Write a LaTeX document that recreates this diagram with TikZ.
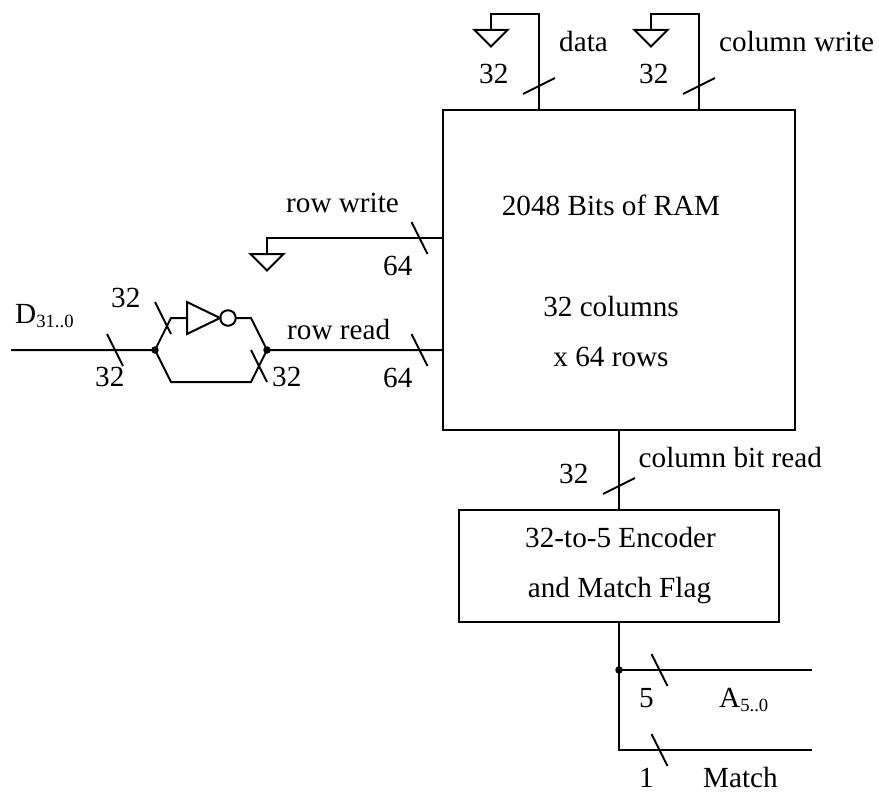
\documentclass[tikz,border=0pt]{standalone}
\usepackage{fontspec}
\setmainfont{Liberation Serif}
\newcommand{\subtxt}[1]{\raisebox{-4pt}{\fontsize{18.7}{19}\selectfont #1}}
\tikzset{
  wire/.style={line width=2pt,line join=miter,line cap=butt},
  box/.style={draw,line width=2pt,inner sep=0pt,outer sep=0pt,anchor=north west},
  lbl/.style={inner sep=0pt,anchor=base west,font=\fontsize{29.2}{33}\selectfont},
  ctr/.style={inner sep=0pt,anchor=base,font=\fontsize{29.2}{33}\selectfont},
  junction/.style={circle,fill=black,inner sep=0pt,minimum size=7.5pt},
  bubble/.style={circle,draw,line width=2pt,inner sep=0pt,outer sep=0pt,minimum size=15.5pt},
}
% bus slashes: falling (\) and rising (/), centred on a named coordinate
\newcommand{\busfall}[1]{\draw[wire] ([shift={(-8,-16)}]#1) -- ([shift={(8,16)}]#1);}
\newcommand{\busrise}[1]{\draw[wire] ([shift={(-16,8)}]#1) -- ([shift={(16,-8)}]#1);}
\newcommand{\gnd}[1]{\draw[wire] ([shift={(-16.5,0)}]#1) -- ([shift={(16.5,0)}]#1) -- ([shift={(0,16.5)}]#1) -- cycle;}
\begin{document}
\begin{tikzpicture}[x=1pt,y=-1pt]
\useasboundingbox (0,0) rectangle (879,792);
% boxes
\node[box,minimum width=352pt,minimum height=320pt] (ram) at (443,110) {};
\node[box,minimum width=320pt,minimum height=112pt] (enc) at (459,510) {};
% RAM port coordinates
\coordinate (dataport) at (539,110);
\coordinate (colport) at (699,110);
\coordinate (rwport) at (443,238);
\coordinate (rrport) at (443,350);
\coordinate (ramout) at (619,430);
\coordinate (encin) at (619,510);
\coordinate (encout) at (619,622);
% data ground
\coordinate (d1) at (539,14);
\coordinate (d2) at (491,14);
\coordinate (g1) at (491,30);
\draw[wire] (dataport) -- (d1) -- (d2) -- (g1);
\gnd{g1}
\coordinate (s1) at (539,86);
\busrise{s1}
% column write ground
\coordinate (c1) at (699,14);
\coordinate (c2) at (651,14);
\coordinate (g2) at (651,30);
\draw[wire] (colport) -- (c1) -- (c2) -- (g2);
\gnd{g2}
\coordinate (s2) at (699,86);
\busrise{s2}
% row write ground
\coordinate (r1) at (267,238);
\coordinate (g3) at (267,254);
\draw[wire] (rwport) -- (r1) -- (g3);
\gnd{g3}
\coordinate (s3) at (419.5,238);
\busfall{s3}
% input and inverter network
\coordinate (din) at (11,350);
\node[junction] (jl) at (155,350) {};
\node[junction] (jr) at (267,350) {};
\coordinate (ul) at (171,318);
\coordinate (ur) at (251,318);
\coordinate (ll) at (171,382);
\coordinate (lr) at (251,382);
\coordinate (tb1) at (187,302);
\coordinate (tb2) at (187,334);
\coordinate (tin) at (187,318);
\coordinate (tout) at (220,318);
\node[bubble] (inv) at (228,318) {};
\draw[wire] (tb1) -- (tout) -- (tb2) -- cycle;
\draw[wire] (din) -- (jl.center) -- (ul) -- (tin);
\draw[wire] (inv.east) -- (ur) -- (jr.center) -- (rrport);
\draw[wire] (jl.center) -- (ll) -- (lr) -- (jr.center);
\coordinate (s4) at (115,350);
\coordinate (s5) at (163,318);
\coordinate (s6) at (259,366);
\coordinate (s7) at (419.5,350);
\busfall{s4}
\busfall{s5}
\busfall{s6}
\busfall{s7}
% RAM to encoder
\draw[wire] (ramout) -- (encin);
\coordinate (s8) at (619,486);
\busrise{s8}
% outputs
\node[junction] (jo) at (619,670) {};
\coordinate (outa) at (812,670);
\coordinate (elbow) at (619,750);
\coordinate (outm) at (812,750);
\draw[wire] (encout) -- (elbow) -- (outm);
\draw[wire] (jo.center) -- (outa);
\coordinate (s9) at (659.5,670);
\coordinate (s10) at (659.5,750);
\busfall{s9}
\busfall{s10}
% labels
\node[lbl] (tdata) at (559,52) {data};
\node[lbl] (tcw) at (719,52) {column write};
\node[lbl] (t32a) at (479,84) {32};
\node[lbl] (t32b) at (639,84) {32};
\node[lbl] (trw) at (286,212) {row write};
\node[lbl] (t64a) at (383,275) {64};
\node[lbl] (trr) at (287,339) {row read};
\node[lbl] (t64b) at (383,387) {64};
\node[lbl] (tD) at (15,323) {D\subtxt{31..0}};
\node[lbl] (t32c) at (111,307) {32};
\node[lbl] (t32d) at (95,386.5) {32};
\node[lbl] (t32e) at (272,386.5) {32};
\node[ctr] (tram) at (611,215) {2048 Bits of RAM};
\node[ctr] (tcols) at (611,316) {32 columns};
\node[ctr] (trows) at (611,366) {x 64 rows};
\node[lbl] (tcbr) at (638.5,467) {column bit read};
\node[lbl] (t32f) at (559,483) {32};
\node[ctr] (tenc) at (620.5,547) {32-to-5 Encoder};
\node[ctr] (tflag) at (619.5,597) {and Match Flag};
\node[lbl] (t5) at (639,707) {5};
\node[lbl] (tA) at (719,707) {A\subtxt{5..0}};
\node[lbl] (t1) at (639,787) {1};
\node[lbl] (tM) at (703,787) {Match};
\end{tikzpicture}
\end{document}
